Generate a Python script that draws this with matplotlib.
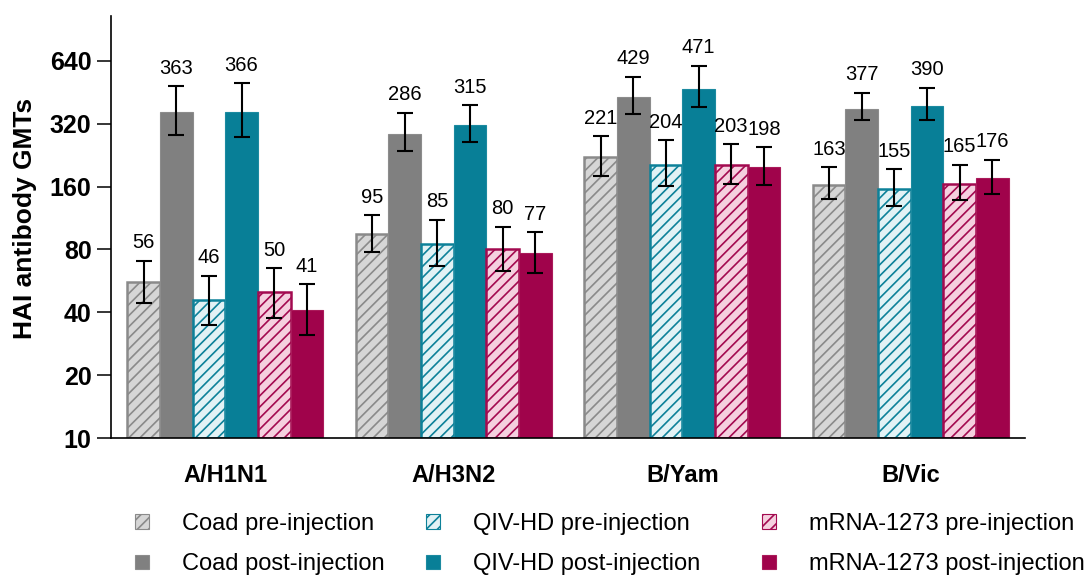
import matplotlib
matplotlib.use("Agg")
import matplotlib.pyplot as plt
from matplotlib.patches import Patch
import numpy as np

plt.rcParams['font.family'] = ['Liberation Sans', 'DejaVu Sans']
plt.rcParams['hatch.linewidth'] = 1.2

strains = ["A/H1N1", "A/H3N2", "B/Yam", "B/Vic"]
series = ["Coad pre-injection", "Coad post-injection",
          "QIV-HD pre-injection", "QIV-HD post-injection",
          "mRNA-1273 pre-injection", "mRNA-1273 post-injection"]

coad_pre = [56, 95, 221, 163]
coad_post = [363, 286, 429, 377]
qiv_pre = [46, 85, 204, 155]
qiv_post = [366, 315, 471, 390]
mrna_pre = [50, 80, 203, 165]
mrna_post = [41, 77, 198, 176]

coad_pre_lo = [44.5, 77.7, 179.5, 139]
coad_pre_hi = [70.8, 117, 278.6, 197.7]
coad_post_lo = [282, 237, 358, 333]
coad_post_hi = [486, 361, 537, 450]
qiv_pre_lo = [34.8, 67, 160.7, 128.8]
qiv_pre_hi = [60, 111, 267, 194]
qiv_post_lo = [276, 263, 385, 334]
qiv_post_hi = [501, 394, 607, 476]
mrna_pre_lo = [37.7, 63.4, 165, 137.6]
mrna_pre_hi = [65.3, 103, 255, 204]
mrna_post_lo = [31.2, 61.8, 162, 148]
mrna_post_hi = [54.5, 96.6, 246.8, 215]

yticks = [10, 20, 40, 80, 160, 320, 640]

values = [coad_pre, coad_post, qiv_pre, qiv_post, mrna_pre, mrna_post]
lows = [coad_pre_lo, coad_post_lo, qiv_pre_lo, qiv_post_lo, mrna_pre_lo, mrna_post_lo]
highs = [coad_pre_hi, coad_post_hi, qiv_pre_hi, qiv_post_hi, mrna_pre_hi, mrna_post_hi]

styles = [
    dict(facecolor="#d6d6d6", edgecolor="#8a8a8a", hatch="///", linewidth=1.8),
    dict(facecolor="#808080", edgecolor="#8c8c8c", linewidth=0.8),
    dict(facecolor="#e2f2f5", edgecolor="#0d8199", hatch="///", linewidth=1.8),
    dict(facecolor="#087f97", edgecolor="#1b8aa0", linewidth=0.8),
    dict(facecolor="#f5d0df", edgecolor="#a30a50", hatch="///", linewidth=1.8),
    dict(facecolor="#a0034b", edgecolor="#aa1a5a", linewidth=0.8),
]

fig = plt.figure(figsize=(10.9, 5.81), dpi=100)
ax = fig.add_axes([111/1090, 1-438/581, (1025-111)/1090, (438-16)/581])

x = np.arange(len(strains))
w = 1/7
for i in range(6):
    pos = x + (i - 2.5) * w
    v = np.array(values[i], dtype=float)
    lo = np.array(lows[i]); hi = np.array(highs[i])
    ax.bar(pos, v - 10, bottom=10, width=w, zorder=2, **styles[i])
    ax.errorbar(pos, v, yerr=[v - lo, hi - v], fmt='none', ecolor='black',
                elinewidth=1.5, capsize=6, capthick=1.5, zorder=3)
    for p, val, h in zip(pos, values[i], hi):
        ax.annotate(str(val), (p, h), xytext=(0, 6), textcoords='offset points',
                    ha='center', va='bottom', fontsize=14.5)

ax.set_yscale('log', base=2)
ax.set_ylim(10, 1050)
ax.set_xlim(-0.5, 3.5)
ax.set_yticks(yticks)
ax.set_yticklabels([str(t) for t in yticks], fontsize=18, fontweight='bold')
ax.minorticks_off()
ax.set_xticks(x)
ax.set_xticklabels(strains, fontsize=17, fontweight='bold')
ax.tick_params(axis='x', length=0, pad=19)
ax.tick_params(axis='y', length=10, width=1.1, pad=4)
ax.set_ylabel("HAI antibody GMTs", fontsize=19, fontweight='bold')
ax.yaxis.set_label_coords(-0.0815, 0.52)
for s in ['top', 'right']:
    ax.spines[s].set_visible(False)
for s in ['left', 'bottom']:
    ax.spines[s].set_linewidth(1.2)

fs = 17
col_x = [135, 426, 762]
for c in range(3):
    handles = [Patch(**styles[2*c]), Patch(**styles[2*c+1])]
    for hnd in handles:
        hnd.set_linewidth(0.8)
    fig.legend(handles, [series[2*c], series[2*c+1]], loc='center left',
               bbox_to_anchor=(col_x[c]/1090, 1-544/581), frameon=False,
               fontsize=fs, handlelength=0.58, handleheight=0.58,
               handletextpad=1.4, labelspacing=0.8, borderpad=0, borderaxespad=0)

fig.savefig("out.png", dpi=100)
